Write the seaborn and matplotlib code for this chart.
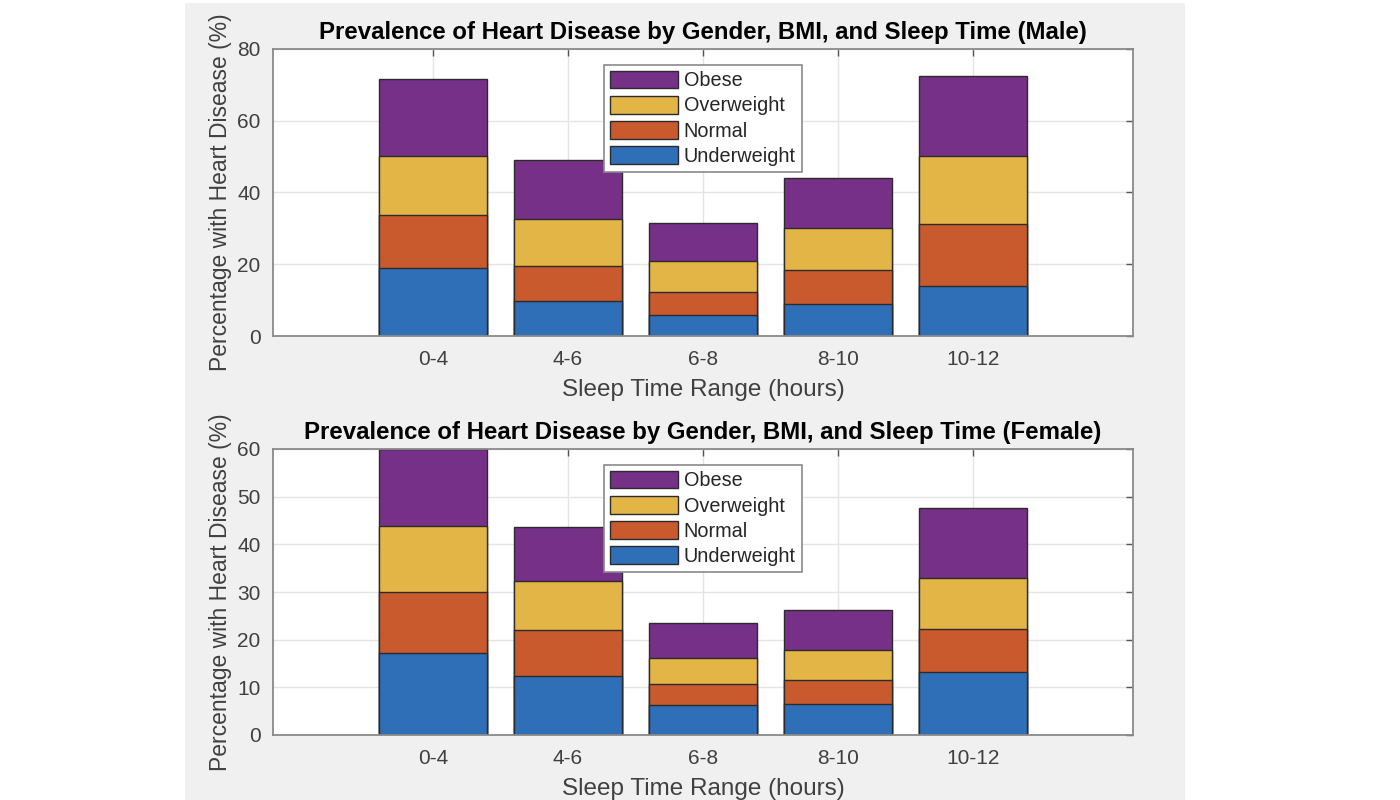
import matplotlib
matplotlib.use("Agg")
import matplotlib.pyplot as plt
from matplotlib.patches import Patch, Rectangle
import numpy as np
import seaborn as sns

# categories
sleep_ranges = ["0-4", "4-6", "6-8", "8-10", "10-12"]
bmi_levels = ["Underweight", "Normal", "Overweight", "Obese"]

# male segment heights (%), bottom to top
male_underweight = [19.0, 9.8, 5.9, 8.8, 14.0]
male_normal = [14.7, 9.7, 6.4, 9.5, 17.2]
male_overweight = [16.5, 13.1, 8.5, 11.7, 18.9]
male_obese = [21.5, 16.4, 10.6, 13.9, 22.3]

# female segment heights (%), bottom to top
female_underweight = [17.3, 12.4, 6.3, 6.4, 13.2]
female_normal = [12.6, 9.7, 4.4, 5.1, 9.0]
female_overweight = [14.0, 10.3, 5.5, 6.3, 10.8]
female_obese = [16.1, 11.2, 7.2, 8.4, 14.6]

male_yticks = [0, 20, 40, 60, 80]
female_yticks = [0, 10, 20, 30, 40, 50, 60]

bmi_colors = {
    "Underweight": "#2f6fb8",
    "Normal": "#c95a2e",
    "Overweight": "#e3b446",
    "Obese": "#763087",
}

sns.set_theme(style="white")
plt.rcParams['font.family'] = ['Liberation Sans', 'DejaVu Sans']

TICK_COLOR = "#404040"


def plot_panel(ax, segments, title, yticks):
    stacks = np.cumsum(np.array(segments), axis=0)
    # draw tallest stack first, then cover it with the lower levels
    for i in reversed(range(len(bmi_levels))):
        sns.barplot(x=sleep_ranges, y=stacks[i], color=bmi_colors[bmi_levels[i]],
                    saturation=1, width=0.8, edgecolor="#2b2b2b", linewidth=1.0,
                    errorbar=None, ax=ax, zorder=2)
    ax.set_xlim(-1.185, len(sleep_ranges) - 1 + 1.185)
    ax.set_ylim(yticks[0], yticks[-1])
    ax.set_yticks(yticks)
    ax.grid(True, color="#e4e4e4", linewidth=1.0)
    ax.set_axisbelow(True)
    ax.tick_params(direction="in", top=True, right=True, length=5, width=1,
                   color="#555555", labelcolor=TICK_COLOR, labelsize=15, pad=9)
    ax.tick_params(axis="x", pad=10)
    for sp in ax.spines.values():
        sp.set_visible(True)
        sp.set_color("#8a8a8a")
        sp.set_linewidth(1.3)
    ax.set_title(title, fontsize=17.3, fontweight="bold", color="black", pad=7)
    ax.set_xlabel("Sleep Time Range (hours)", fontsize=17.5, color=TICK_COLOR, labelpad=7)
    ax.set_ylabel("Percentage with Heart Disease (%)", fontsize=16.5, color=TICK_COLOR, labelpad=4)

    handles = [Patch(facecolor=bmi_colors[lv], edgecolor="#2b2b2b", linewidth=1.0)
               for lv in reversed(bmi_levels)]
    leg = ax.legend(handles, list(reversed(bmi_levels)), loc="upper center",
                    bbox_to_anchor=(0.5, 0.945), borderaxespad=0, fontsize=14.3,
                    frameon=True, fancybox=False, framealpha=1, edgecolor="#8a8a8a",
                    handlelength=3.4, handleheight=1.0, handletextpad=0.3,
                    labelspacing=0.28, borderpad=0.3)
    leg.get_frame().set_linewidth(1.2)
    for t in leg.get_texts():
        t.set_color("#262626")


fig = plt.figure(figsize=(14, 8), dpi=100)
fig.patch.set_facecolor("white")
fig.patches.append(Rectangle((185 / 1400, 0), 1000 / 1400, 797 / 800,
                             transform=fig.transFigure, facecolor="#f0f0f0",
                             edgecolor="none", zorder=-10))

ax_male = fig.add_axes([0.195, 0.58, 0.6143, 0.359])
ax_female = fig.add_axes([0.195, 0.08125, 0.6143, 0.3575])

plot_panel(ax_male, [male_underweight, male_normal, male_overweight, male_obese],
           "Prevalence of Heart Disease by Gender, BMI, and Sleep Time (Male)", male_yticks)
plot_panel(ax_female, [female_underweight, female_normal, female_overweight, female_obese],
           "Prevalence of Heart Disease by Gender, BMI, and Sleep Time (Female)", female_yticks)

fig.savefig("out.png", dpi=100)
